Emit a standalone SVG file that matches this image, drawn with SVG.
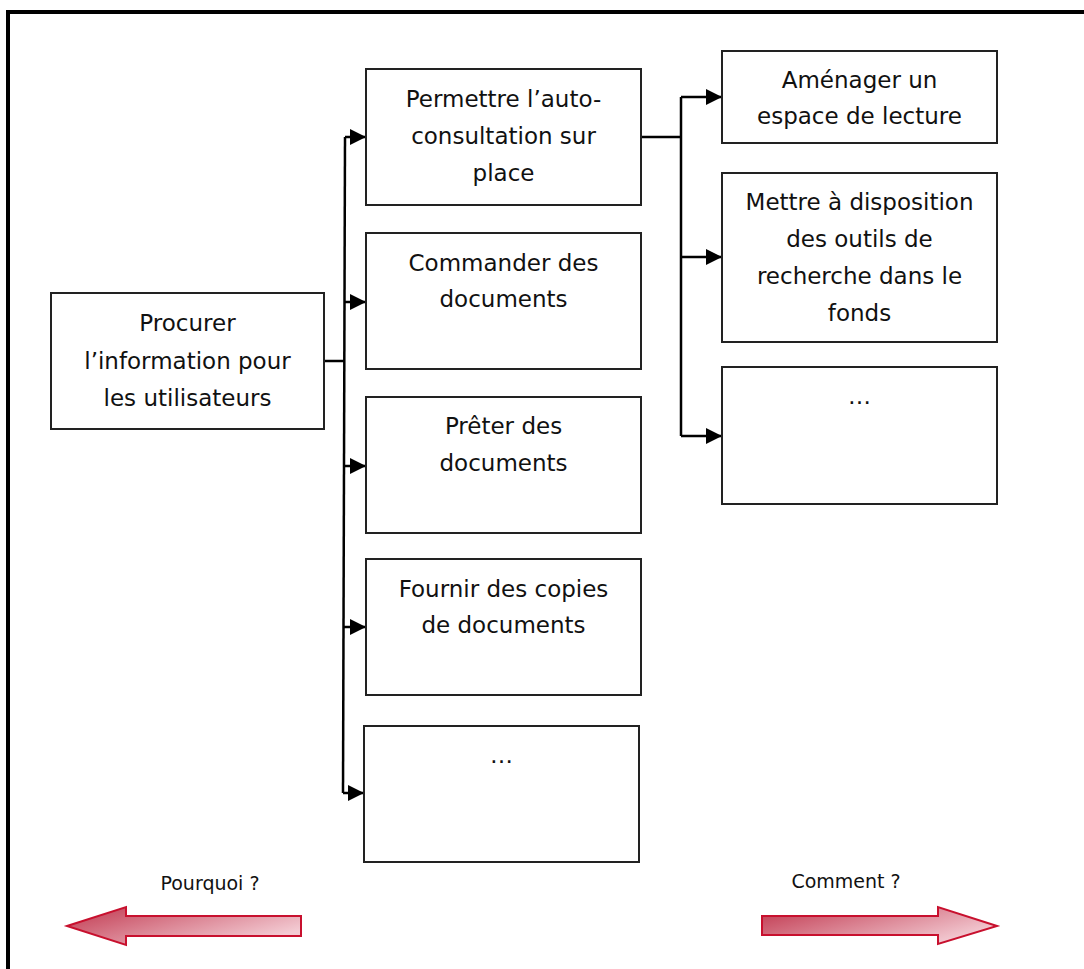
<svg xmlns="http://www.w3.org/2000/svg" width="1084" height="969" viewBox="0 0 1084 969">
  <style>
    .box { fill: #ffffff; stroke: #222222; stroke-width: 2; }
    .lbl { font-family: "DejaVu Sans", "Liberation Sans", sans-serif; font-size: 23px; fill: #111111; text-anchor: middle; }
    .cap { font-family: "DejaVu Sans", "Liberation Sans", sans-serif; font-size: 19px; fill: #111111; text-anchor: middle; }
    .wire { fill: none; stroke: #000000; stroke-width: 2.5; }
    .big { stroke: #c8102e; stroke-width: 2; fill: url(#redfade); stroke-linejoin: miter; }
  </style>
  <defs>
    <marker id="head" markerUnits="userSpaceOnUse" markerWidth="18" markerHeight="18" refX="16" refY="8" orient="auto">
      <path d="M0,0 L16,8 L0,16 Z" fill="#000000"/>
    </marker>
    <linearGradient id="redfade" x1="0" y1="0" x2="1" y2="0.6">
      <stop offset="0" stop-color="#c0364d"/>
      <stop offset="1" stop-color="#f3cbd3"/>
    </linearGradient>
  </defs>

  <!-- outer frame -->
  <rect x="8" y="12" width="1090" height="975" fill="none" stroke="#000000" stroke-width="4"/>

  <!-- connectors -->
  <g id="connectors">
    <path class="wire" d="M324,361 H345"/>
    <path class="wire" d="M345,137 L343,793"/>
    <path class="wire" d="M345,137 H366" marker-end="url(#head)"/>
    <path class="wire" d="M345,302 H366" marker-end="url(#head)"/>
    <path class="wire" d="M344.5,466 H366" marker-end="url(#head)"/>
    <path class="wire" d="M344,627 H366" marker-end="url(#head)"/>
    <path class="wire" d="M343,793 H364" marker-end="url(#head)"/>
    <path class="wire" d="M641,137 H681"/>
    <path class="wire" d="M681,97 V436"/>
    <path class="wire" d="M681,97 H722" marker-end="url(#head)"/>
    <path class="wire" d="M681,257 H722" marker-end="url(#head)"/>
    <path class="wire" d="M681,436 H722" marker-end="url(#head)"/>
  </g>

  <!-- root goal -->
  <g id="procurer">
    <rect class="box" x="51" y="293" width="273" height="136"/>
    <text class="lbl" x="187.5" y="331">Procurer</text>
    <text class="lbl" x="187.5" y="369">l’information pour</text>
    <text class="lbl" x="187.5" y="406">les utilisateurs</text>
  </g>

  <!-- second level -->
  <g id="autoconsultation">
    <rect class="box" x="366" y="69" width="275" height="136"/>
    <text class="lbl" x="503.5" y="107">Permettre l’auto-</text>
    <text class="lbl" x="503.5" y="144">consultation sur</text>
    <text class="lbl" x="503.5" y="181">place</text>
  </g>
  <g id="commander">
    <rect class="box" x="366" y="233" width="275" height="136"/>
    <text class="lbl" x="503.5" y="271">Commander des</text>
    <text class="lbl" x="503.5" y="307">documents</text>
  </g>
  <g id="preter">
    <rect class="box" x="366" y="397" width="275" height="136"/>
    <text class="lbl" x="503.5" y="434">Prêter des</text>
    <text class="lbl" x="503.5" y="471">documents</text>
  </g>
  <g id="copies">
    <rect class="box" x="366" y="559" width="275" height="136"/>
    <text class="lbl" x="503.5" y="597">Fournir des copies</text>
    <text class="lbl" x="503.5" y="633">de documents</text>
  </g>
  <g id="autres-services">
    <rect class="box" x="364" y="726" width="275" height="136"/>
    <text class="lbl" x="501.5" y="763">…</text>
  </g>

  <!-- third level -->
  <g id="espace-lecture">
    <rect class="box" x="722" y="51" width="275" height="92"/>
    <text class="lbl" x="859.5" y="88">Aménager un</text>
    <text class="lbl" x="859.5" y="124">espace de lecture</text>
  </g>
  <g id="outils-recherche">
    <rect class="box" x="722" y="173" width="275" height="169"/>
    <text class="lbl" x="859.5" y="210">Mettre à disposition</text>
    <text class="lbl" x="859.5" y="247">des outils de</text>
    <text class="lbl" x="859.5" y="284">recherche dans le</text>
    <text class="lbl" x="859.5" y="321">fonds</text>
  </g>
  <g id="autres-moyens">
    <rect class="box" x="722" y="367" width="275" height="137"/>
    <text class="lbl" x="859.5" y="404">…</text>
  </g>

  <!-- reading direction -->
  <g id="pourquoi">
    <text class="cap" x="210" y="890">Pourquoi ?</text>
    <path class="big" d="M67,926 L126,907 L126,916 L301,916 L301,936 L126,936 L126,945 Z"/>
  </g>
  <g id="comment">
    <text class="cap" x="846" y="888">Comment ?</text>
    <path class="big" d="M997,926 L938,907 L938,916 L762,916 L762,935 L938,935 L938,944 Z"/>
  </g>
</svg>
